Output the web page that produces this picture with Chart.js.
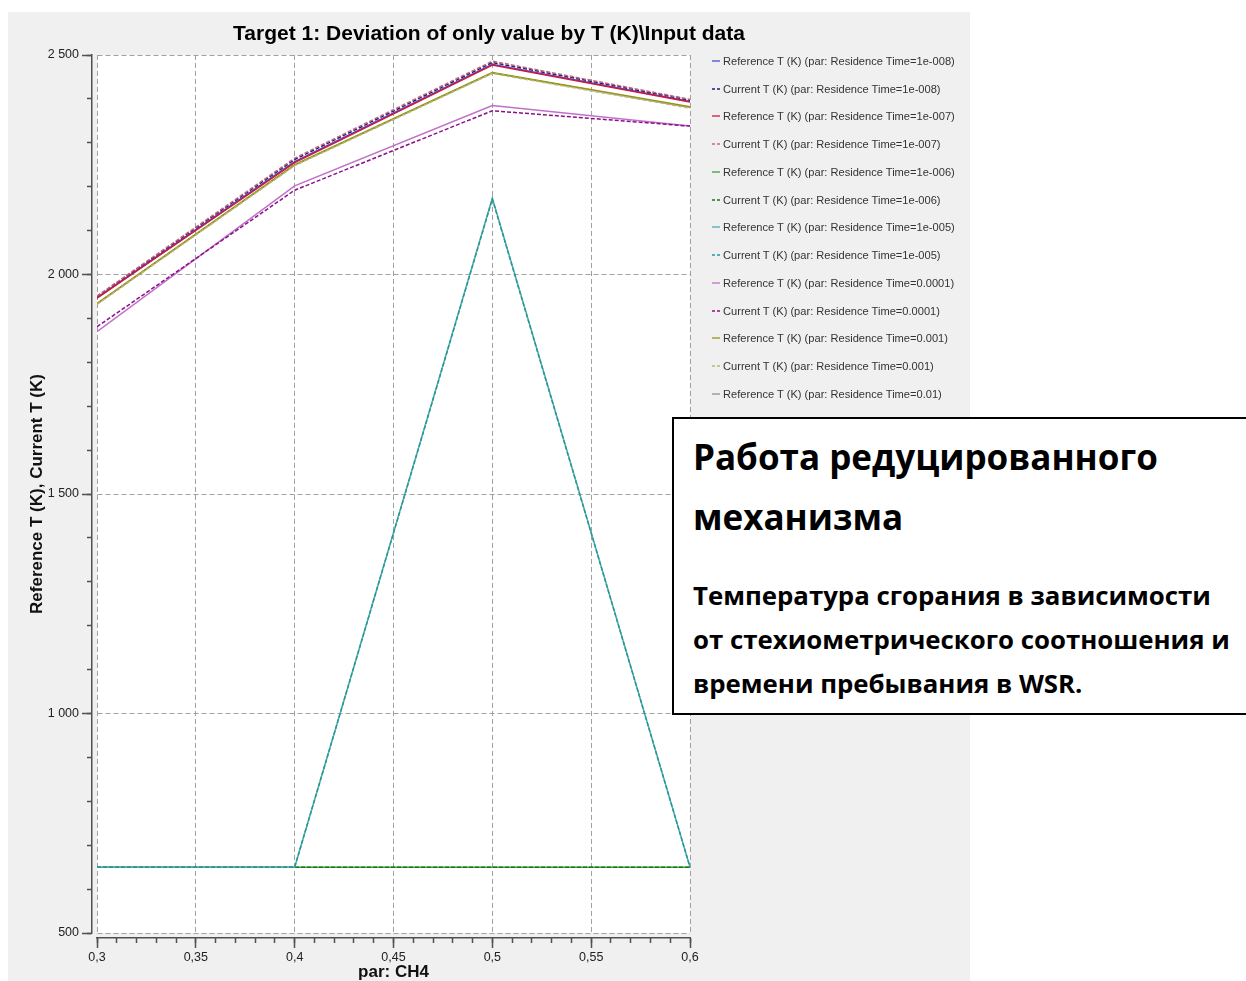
<!DOCTYPE html>
<html>
<head>
<meta charset="utf-8">
<script src="https://cdn.jsdelivr.net/npm/chart.js@4.4.0/dist/chart.umd.min.js"></script>
<style>
  body { margin: 0; width: 1246px; height: 981px; overflow: hidden; background: #fff; position: relative; font-family: 'Liberation Sans', Arial, sans-serif; }
  #panel { position: absolute; left: 8px; top: 12px; width: 962px; height: 969px; background: #f0f0f0; }
  #legend { position: absolute; left: 712px; top: 47px; font-size: 11.1px; color: #333; }
  #legend .item { height: 27.75px; display: flex; align-items: center; white-space: nowrap; }
  #legend svg { margin-right: 3px; }
  #note { position: absolute; left: 672px; top: 417px; width: 600px; height: 294px; border: 2px solid #000; background: #fff;
          font-family: 'Open Sans', sans-serif; font-weight: bold; color: #000; box-sizing: content-box; }
  #note h1 { margin: 0; padding: 8px 0 0 19px; font-size: 35px; line-height: 60px; font-weight: bold; }
  #note p { margin: 26px 0 0 19px; font-size: 25.8px; line-height: 44px; }
</style>
</head>
<body>
<div id="panel"><canvas id="lineChart"></canvas></div>
<div id="legend"></div>
<div id="note">
  <h1>Работа редуцированного<br>механизма</h1>
  <p>Температура сгорания в зависимости<br>от стехиометрического соотношения и<br>времени пребывания в WSR.</p>
</div>
<script>
// x values (par: CH4)
const parCH4 = [0.3, 0.4, 0.5, 0.6];
const residenceTimes = ['1e-008', '1e-007', '1e-006', '1e-005', '0.0001', '0.001', '0.01'];

// T (K)
const refT_1e008 = [1947, 2257, 2479, 2394];
const curT_1e008 = [1950, 2262, 2483, 2397];
const refT_1e007 = [1946, 2255, 2477, 2393];
const curT_1e007 = [1951, 2265, 2486, 2399];
const refT_1e006 = [650, 650, 650, 650];
const curT_1e006 = [650, 650, 650, 650];
const refT_1e005 = [650, 650, 2174, 650];
const curT_1e005 = [650, 650, 2172, 650];
const refT_1e004 = [1870, 2202, 2385, 2338];
const curT_1e004 = [1881, 2192, 2373, 2338];
const refT_1e003 = [1934, 2250, 2460, 2382];
const curT_1e003 = [1932, 2248, 2458, 2379];
const refT_1e002 = [1933, 2249, 2459, 2381];

const seriesValues = [
    refT_1e008, curT_1e008, refT_1e007, curT_1e007, refT_1e006, curT_1e006,
    refT_1e005, curT_1e005, refT_1e004, curT_1e004, refT_1e003, curT_1e003, refT_1e002
];
const seriesColors = [
    '#4a4ad0', '#1c1c7a', '#d0163c', '#c86878', '#40a040', '#127a12',
    '#48aeae', '#2c9494', '#c070c8', '#8a108a', '#949414', '#b8b870', '#909090'
];

const seriesLabels = [];
residenceTimes.forEach(rt => {
    seriesLabels.push('Reference T (K) (par: Residence Time=' + rt + ')');
    seriesLabels.push('Current T (K) (par: Residence Time=' + rt + ')');
});

const datasets = seriesValues.map((values, i) => ({
    label: seriesLabels[i],
    data: parCH4.map((x, j) => ({ x: x, y: values[j] })),
    borderColor: seriesColors[i],
    borderWidth: 1.5,
    borderDash: i % 2 === 1 ? [4, 2] : [],
    pointRadius: 0,
    tension: 0,
    fill: false,
    order: i === 12 ? 20 : 13 - i   // later series drawn on top
}));

// legend on the right
const legend = document.getElementById('legend');
datasets.forEach(ds => {
    const item = document.createElement('div');
    item.className = 'item';
    const dash = ds.borderDash.length ? 'stroke-dasharray="3,2"' : '';
    item.innerHTML = '<svg width="8" height="4"><line x1="0" y1="2" x2="8" y2="2" stroke="' + ds.borderColor +
        '" stroke-width="1.3" ' + dash + '/></svg><span>' + ds.label + '</span>';
    legend.appendChild(item);
});

const axisColor = '#505050';
const tickFont = { family: 'Liberation Sans', size: 12.5 };

function fixWidth(w) { return scale => { scale.width = w; }; }
function fixHeight(h) { return scale => { scale.height = h; }; }
function spaceThousands(v) { return String(v).replace(/\B(?=(\d{3})+(?!\d))/g, ' '); }
function commaDecimal(v) { return String(Number(v.toFixed(2))).replace('.', ','); }

// white plot area
const plotBackground = {
    id: 'plotBackground',
    beforeDraw(chart) {
        const a = chart.chartArea;
        chart.ctx.save();
        chart.ctx.fillStyle = '#fff';
        chart.ctx.fillRect(a.left, a.top, a.right - a.left, a.bottom - a.top);
        chart.ctx.restore();
    }
};

const ctx = document.getElementById('lineChart').getContext('2d');
new Chart(ctx, {
    type: 'line',
    data: { datasets: datasets },
    plugins: [plotBackground],
    options: {
        responsive: true,
        maintainAspectRatio: false,
        animation: false,
        layout: { padding: 0 },
        plugins: {
            legend: { display: false },
            tooltip: { enabled: false },
            title: {
                display: true,
                text: 'Target 1: Deviation of only value by T (K)\\Input data',
                color: '#000',
                font: { family: 'Liberation Sans', size: 21, weight: 'bold' },
                padding: { top: 10, bottom: 7.8 }
            }
        },
        scales: {
            x: {
                type: 'linear', position: 'bottom', min: 0.3, max: 0.6, weight: 2,
                afterFit: fixHeight(43),
                ticks: { stepSize: 0.05, autoSkip: false, maxRotation: 0, padding: 2, color: '#222', font: tickFont,
                         callback: v => commaDecimal(v) },
                grid: { color: '#a0a0a0', tickColor: axisColor, tickLength: 10, tickWidth: 1.5, tickBorderDash: [] },
                border: { display: true, color: axisColor, width: 1.5, dash: [5, 3] },
                title: { display: true, text: 'par: CH4', color: '#111', padding: { top: 0, bottom: 0 },
                         font: { family: 'Liberation Sans', size: 17, weight: 'bold', lineHeight: 1 } }
            },
            xMinor: {
                type: 'linear', position: 'bottom', min: 0.3, max: 0.6, weight: 1,
                afterFit: fixHeight(0),
                ticks: { stepSize: 0.01, display: false },
                grid: { drawOnChartArea: false, tickColor: axisColor, tickLength: 5, tickWidth: 1.5 },
                border: { display: false }
            },
            xGap: {
                type: 'linear', position: 'bottom', min: 0.3, max: 0.6, weight: 0,
                afterFit: fixHeight(5),
                ticks: { display: false }, grid: { display: false }, border: { display: false }
            },
            y: {
                type: 'linear', position: 'left', min: 500, max: 2500, weight: 2,
                afterFit: fixWidth(84),
                ticks: { stepSize: 500, autoSkip: false, padding: 3, color: '#222', font: tickFont,
                         callback: v => spaceThousands(v) },
                grid: { color: '#a0a0a0', tickColor: axisColor, tickLength: 10, tickWidth: 1.5, tickBorderDash: [] },
                border: { display: true, color: axisColor, width: 1.5, dash: [5, 3] },
                title: { display: true, text: 'Reference T (K), Current T (K)', color: '#111', padding: { top: 18.8, bottom: 0 },
                         font: { family: 'Liberation Sans', size: 17, weight: 'bold' } }
            },
            yMinor: {
                type: 'linear', position: 'left', min: 500, max: 2500, weight: 1,
                afterFit: fixWidth(0),
                ticks: { stepSize: 100, display: false },
                grid: { drawOnChartArea: false, tickColor: axisColor, tickLength: 5, tickWidth: 1.5 },
                border: { display: false }
            },
            yGap: {
                type: 'linear', position: 'left', min: 500, max: 2500, weight: 0,
                afterFit: fixWidth(5),
                ticks: { display: false }, grid: { display: false }, border: { display: false }
            },
            yRight: {
                type: 'linear', position: 'right', min: 500, max: 2500,
                afterFit: fixWidth(280),
                ticks: { display: false }, grid: { display: false }, border: { display: false }
            }
        }
    }
});
</script>
</body>
</html>
